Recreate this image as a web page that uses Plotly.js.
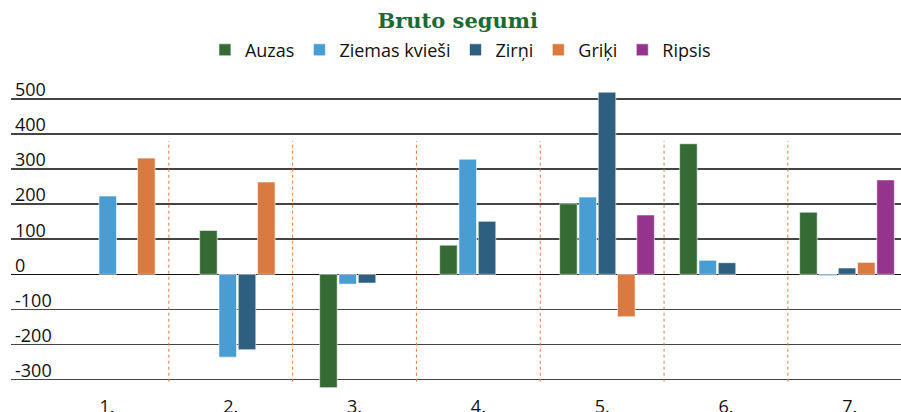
<!DOCTYPE html>
<html>
<head>
<meta charset="utf-8">
<script src="https://cdn.plot.ly/plotly-3.0.1.min.js"></script>
<style>html,body{margin:0;padding:0;background:#fff;}#chart{width:901px;height:412px;}</style>
</head>
<body>
<div id="chart"></div>
<script>
const categories = ['1.', '2.', '3.', '4.', '5.', '6.', '7.'];
const auzas  = [null, 125, -323, 83, 201, 372, 177];
const ziemas = [223, -236, -28, 328, 220, 40, -4];
const zirni  = [null, -215, -25, 151, 519, 33, 18];
const griki  = [331, 263, null, null, -121, null, 34];
const ripsis = [null, null, null, null, 169, null, 269];
const seriesNames = ['Auzas', 'Ziemas kvieši', 'Zirņi', 'Griķi', 'Ripsis'];
const seriesColors = ['#356a34', '#4a9dd3', '#2e5f80', '#db7941', '#93358d'];
const yTicks = [-300, -200, -100, 0, 100, 200, 300, 400, 500];

const seriesData = [auzas, ziemas, zirni, griki, ripsis];
const idx = categories.map((c, i) => i);

const traces = seriesData.map((vals, k) => ({
  type: 'bar',
  name: seriesNames[k],
  x: idx,
  y: vals,
  marker: {color: seriesColors[k], line: {color: 'rgba(255,255,255,0.6)', width: 1}},
  hoverinfo: 'x+y+name'
}));
traces.push({type: 'scatter', mode: 'none', x: idx, y: idx.map(() => null), xaxis: 'x2', showlegend: false, hoverinfo: 'skip'});

const shapes = categories.slice(1).map((c, i) => ({
  type: 'line', xref: 'x2', yref: 'y', x0: i + 0.5, x1: i + 0.5, y0: -306, y1: 380,
  line: {color: '#e07b45', width: 1, dash: 'dot'}
}));

const layout = {
  width: 901, height: 412,
  margin: {l: 11, r: 0, t: 75, b: 22},
  paper_bgcolor: '#fff', plot_bgcolor: '#fff',
  font: {family: '"Open Sans", Lato, sans-serif', color: '#111', size: 18},
  title: {text: '<b>Bruto segumi</b>', x: 0.508, xanchor: 'center', y: 0.95, yanchor: 'middle',
          font: {family: '"DejaVu Serif", "Liberation Serif", serif', size: 21, color: '#1a6b32'}},
  showlegend: true,
  legend: {orientation: 'h', x: 0.505, xanchor: 'center', y: 1.079, yanchor: 'middle',
           font: {size: 18, color: '#111'}, itemwidth: 30, tracegroupgap: 0},
  barmode: 'group', bargap: 0.196, bargroupgap: 0.09,
  xaxis: {range: [-0.967, 6.45], showticklabels: false, showgrid: false, zeroline: false, ticks: '', fixedrange: true},
  xaxis2: {overlaying: 'x', side: 'bottom', anchor: 'y', range: [-0.775, 6.414], tickmode: 'array',
           tickvals: idx, ticktext: categories, showgrid: false, zeroline: false, ticks: '',
           tickfont: {size: 18, color: '#111'}, ticklabelstandoff: 4},
  yaxis: {range: [-329.6, 567.8], tickmode: 'array', tickvals: yTicks, ticktext: yTicks.map(String),
          ticklabelposition: 'inside', ticklabelshift: -9, ticklabelstandoff: 1,
          showgrid: true, gridcolor: '#444', gridwidth: 1.5, zeroline: true, zerolinecolor: '#111', zerolinewidth: 1.5,
          tickfont: {size: 18, color: '#111'}, ticks: ''},
  shapes: shapes
};

Plotly.newPlot('chart', traces, layout, {displayModeBar: false, staticPlot: true});
</script>
</body>
</html>
